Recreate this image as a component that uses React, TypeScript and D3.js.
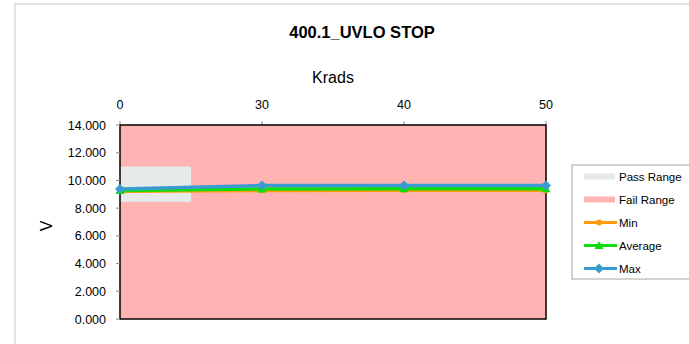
import React from "react";
import * as d3 from "d3";

const categories = ["0", "30", "40", "50"];
const minValues = [9.22, 9.28, 9.3, 9.3];
const avgValues = [9.28, 9.38, 9.4, 9.4];
const maxValues = [9.38, 9.63, 9.63, 9.63];
const passRange = [8.45, 11.0];
const failRange = [0, 14];
const yTicks = [0, 2, 4, 6, 8, 10, 12, 14];

const W = 689;
const H = 344;
const plot = { left: 120, right: 546, top: 125, bottom: 319 };

export default function App() {
  const x = d3.scalePoint<string>().domain(categories).range([plot.left, plot.right]);
  const y = d3.scaleLinear().domain([0, 14]).range([plot.bottom, plot.top]);
  const step = x.step();
  const line = d3
    .line<number>()
    .x((_, i) => x(categories[i]) as number)
    .y((d) => y(d));

  const font = "'Liberation Sans', Arial, sans-serif";
  const series = [
    { name: "Min", values: minValues, color: "#FF9A0A", marker: "circle" },
    { name: "Average", values: avgValues, color: "#10DD10", marker: "triangle" },
    { name: "Max", values: maxValues, color: "#3A9BD0", marker: "diamond" },
  ];

  const marker = (type: string, cx: number, cy: number, color: string, key: string) => {
    if (type === "circle") return <circle key={key} cx={cx} cy={cy} r={3} fill={color} />;
    if (type === "triangle")
      return <path key={key} d={`M${cx},${cy - 4.5}L${cx + 4.5},${cy + 3.5}L${cx - 4.5},${cy + 3.5}Z`} fill={color} />;
    return <path key={key} d={`M${cx},${cy - 5}L${cx + 5},${cy}L${cx},${cy + 5}L${cx - 5},${cy}Z`} fill={color} />;
  };

  const legendX = 572;
  const legendItems = [
    { name: "Pass Range", type: "rect", color: "#E6EAEA" },
    { name: "Fail Range", type: "rect", color: "#FFB3B3" },
    ...series.map((s) => ({ name: s.name, type: s.marker, color: s.color })),
  ];

  return (
    <svg width={W} height={H} style={{ position: "absolute", left: 0, top: 0, background: "#fff" }} fontFamily={font}>
      <rect x={15} y={4} width={W} height={H} fill="#fff" stroke="#D9D9D9" strokeWidth={1.5} />
      <text x={362} y={38} textAnchor="middle" fontSize={16.5} fontWeight="bold" fill="#000">
        400.1_UVLO STOP
      </text>
      <text x={333} y={83} textAnchor="middle" fontSize={16} fill="#000">
        Krads
      </text>
      {categories.map((c) => (
        <g key={c}>
          <text x={x(c)} y={108.5} textAnchor="middle" fontSize={12.5} fill="#000">
            {c}
          </text>
          <line x1={x(c)} x2={x(c)} y1={plot.top - 4} y2={plot.top} stroke="#888" />
        </g>
      ))}
      {/* Fail range */}
      <rect
        x={plot.left}
        y={y(failRange[1])}
        width={plot.right - plot.left}
        height={y(failRange[0]) - y(failRange[1])}
        fill="#FFB3B3"
      />
      {/* Pass range */}
      <rect
        x={plot.left}
        y={y(passRange[1])}
        width={step / 2}
        height={y(passRange[0]) - y(passRange[1])}
        fill="#E6EAEA"
      />
      <rect
        x={plot.left}
        y={plot.top}
        width={plot.right - plot.left}
        height={plot.bottom - plot.top}
        fill="none"
        stroke="#000"
        strokeWidth={1.5}
      />
      {yTicks.map((t) => (
        <g key={t}>
          <line x1={plot.left - 4} x2={plot.left} y1={y(t)} y2={y(t)} stroke="#888" />
          <text x={106} y={y(t) + 4.5} textAnchor="end" fontSize={12.5} fill="#000">
            {t.toFixed(3)}
          </text>
        </g>
      ))}
      <text transform={`translate(52,226) rotate(-90)`} textAnchor="middle" fontSize={16} fill="#000">
        V
      </text>
      {series.map((s) => (
        <g key={s.name}>
          <path d={line(s.values) || ""} fill="none" stroke={s.color} strokeWidth={3.5} />
          {s.values.map((v, i) => marker(s.marker, x(categories[i]) as number, y(v), s.color, s.name + i))}
        </g>
      ))}
      <rect x={legendX} y={165} width={125} height={114} fill="#fff" stroke="#A6A6A6" />
      {legendItems.map((it, i) => {
        const cy = 176.5 + i * 23;
        return (
          <g key={it.name}>
            {it.type === "rect" ? (
              <rect x={584} y={cy - 3} width={31} height={6} fill={it.color} />
            ) : (
              <g>
                <line x1={584} x2={617} y1={cy} y2={cy} stroke={it.color} strokeWidth={3} />
                {marker(it.type, 599, cy, it.color, it.name + "m")}
              </g>
            )}
            <text x={619} y={cy + 4} fontSize={11.5} fill="#000">
              {it.name}
            </text>
          </g>
        );
      })}
    </svg>
  );
}
